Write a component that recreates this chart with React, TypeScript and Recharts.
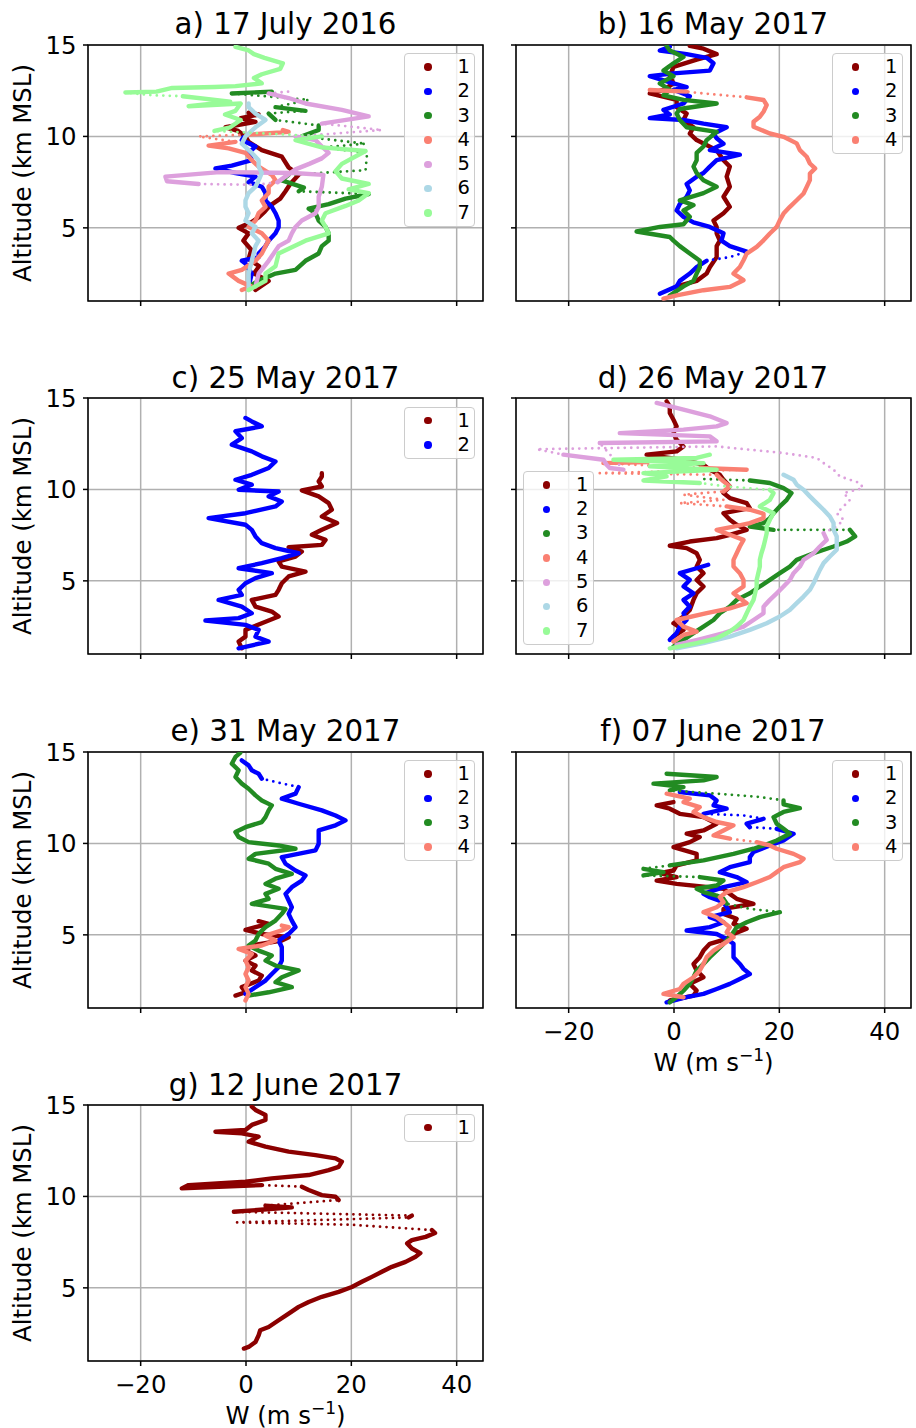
import React from 'react';
import {
  ScatterChart,
  Scatter,
  XAxis,
  YAxis,
  CartesianGrid,
  Legend,
  ReferenceArea,
} from 'recharts';

// every point is [W (m s-1), altitude (km MSL)].
// a third value 1 means the leg that ends at this point is sparse (drawn dotted).
type Pt = number[];

const W_TICKS = [-20, 0, 20, 40];
const ALT_TICKS = [5, 10, 15];
const W_DOMAIN = [-30, 45];
const ALT_DOMAIN = [1, 15];
const COLORS = ['#8b0000', '#0000ff', '#228b22', '#fa8072', '#dda0dd', '#add8e6', '#98fb98'];
const LEGEND_LABELS = ['1', '2', '3', '4', '5', '6', '7'];

// a) 17 July 2016
const a1: Pt[] = [[1.8,1.6],[4.3,2.1],[1.5,2.5],[2.5,2.9],[0.5,3.3],[1.0,3.8],[-0.5,4.3],[0.5,4.7],[-1.4,5.0],[1.0,5.3],[2.5,5.6],[3.6,5.9],[4.5,6.2],[6.5,6.6],[7.5,7.0],[8.4,7.4],[10.0,7.9],[8.1,8.3],[6.8,8.9],[3.0,9.25],[0.5,9.7],[-0.1,10.0],[-1.5,10.3],[-3.9,10.5],[1.8,10.8],[-1.0,11.0],[2.4,11.2],[0.5,11.3]];
const a2: Pt[] = [[0.5,1.8],[1.1,2.5],[-0.1,3.05],[-0.8,3.2],[2.4,3.4],[2.4,3.6],[3.7,4.0],[4.3,4.3],[5.6,4.7],[6.2,5.05],[6.2,5.4],[5.6,5.8],[4.9,6.15],[3.7,6.5],[3.7,6.9],[3.0,7.25],[0.5,7.5],[1.8,7.8],[-2.0,8.0],[-5.8,8.25],[-2.7,8.4],[1.1,8.7],[0.5,9.1],[1.8,9.45],[-0.8,9.8],[-0.5,9.95]];
const a3: Pt[] = [[0.5,1.8],[2.4,2.1],[5.6,2.5],[9.4,2.7],[11.3,3.2],[13.8,3.6],[14.4,4.0],[15.7,4.3],[15.7,4.7],[15.1,5.05],[13.8,5.4],[13.2,5.8],[11.9,6.05],[15.7,6.3],[18.9,6.6],[23.3,6.85],[10.0,7.0,1],[11.0,7.2],[6.8,7.6],[8.1,7.9],[22.7,8.15,1],[23.0,9.1,1],[14.4,9.4,1],[22.7,9.6,1],[10.6,10.0,1],[13.8,10.35],[13.8,10.6],[5.6,10.9,1],[4.3,11.25],[11.3,11.4,1],[5.6,11.6],[11.9,12.0,1],[-2.7,12.35,1],[4.9,12.45]];
const a4: Pt[] = [[-0.8,1.6],[1.0,1.8],[-1.4,2.1],[-3.3,2.5],[-0.8,2.7],[1.8,3.2],[3.0,3.6],[3.7,4.0],[4.3,4.3],[3.0,4.7],[0.5,5.05],[1.8,5.4],[2.4,5.8],[3.7,6.15],[3.0,6.5],[4.3,6.9],[4.3,7.25],[5.6,7.6],[4.9,7.9],[2.4,8.35],[1.1,8.7],[-0.1,9.1],[-3.3,9.35],[-7.1,9.5],[-2.0,9.7],[-9.0,10.0,1],[0.5,10.1,1],[8.1,10.25],[7.0,10.35]];
const a5: Pt[] = [[1.8,1.8],[2.4,2.5],[4.3,3.2],[6.2,4.0],[8.1,4.3],[8.7,4.7],[9.4,5.05],[10.6,5.4],[13.2,5.8],[13.8,6.15],[13.8,6.7],[14.4,7.25],[14.7,7.9],[9.0,8.0],[-5.0,8.05],[-15.3,7.8],[-15.0,7.55],[-9.0,7.4],[2.0,7.35,1],[6.0,7.5,1],[9.4,8.2],[12.0,8.5],[14.4,8.8],[15.7,9.1],[14.4,9.45],[13.2,9.8],[9.4,10.0],[25.8,10.35,1],[14.4,10.7,1],[23.3,11.1],[18.2,11.45],[11.3,11.8],[8.1,12.1],[4.3,12.35],[8.1,12.45,1]];
const a6: Pt[] = [[0.5,1.6],[0.5,2.5],[1.1,3.2],[1.8,4.0],[2.4,4.3],[1.1,4.7],[1.8,5.05],[-0.1,5.4],[0.5,5.8],[-0.1,6.15],[-0.1,6.5],[0.5,6.9],[1.8,7.25],[2.4,7.6],[3.0,8.0],[2.4,8.35],[2.4,8.7],[1.1,9.1],[-0.8,9.6],[-0.1,10.0],[1.8,10.5],[3.7,10.9],[1.8,11.25],[0.5,11.6],[0.5,11.8]];
const a7: Pt[] = [[0.5,1.6],[1.8,1.8],[3.7,2.1],[3.7,2.5],[5.6,2.9],[6.2,3.6],[11.3,4.3],[15.7,4.7],[15.1,5.05],[14.4,5.4],[15.1,5.8],[18.9,6.2],[21.4,6.5],[23.3,6.9],[19.5,7.1],[23.3,7.4],[18.2,7.7],[17.0,8.1],[18.2,8.5],[22.7,9.2],[14.4,9.4],[9.4,9.8],[14.4,10.0],[-6.0,10.3,1],[-3.0,10.5],[-1.0,10.9],[-4.0,11.2],[-2.0,11.4],[-1.0,11.8],[-10.9,11.65],[-3.0,11.9],[-12.0,12.2],[-17.8,12.25,1],[-22.9,12.4,1],[-17.0,12.45],[-14.0,12.65],[-6.0,12.7],[-2.0,12.75],[3.0,12.9],[1.5,13.2],[3.0,13.4],[6.5,13.7],[7.0,14.0],[3.5,14.3],[1.5,14.5],[0.5,14.7],[-2.0,14.9]];

// b) 16 May 2017
const b1: Pt[] = [[0.5,1.8],[4.3,2.1],[6.2,2.5],[6.8,2.85],[8.1,3.4],[8.1,4.0],[8.7,4.3],[8.1,4.7],[8.1,5.05],[7.5,5.4],[9.4,5.8],[10.6,6.15],[9.4,6.7],[10.6,7.25],[10.0,7.8],[10.6,8.35],[9.4,8.7],[8.1,9.25],[4.3,9.8],[3.0,10.15],[3.7,10.5],[1.8,10.9],[2.4,11.25],[0.5,11.6],[0.5,12.0],[-4.6,12.35],[-2.0,12.55],[-0.1,12.9],[-0.8,13.3],[-0.1,13.8],[4.3,14.2],[8.1,14.5],[5.6,14.8],[3.0,14.95]];
const b2: Pt[] = [[-2.7,1.4],[0.5,1.8],[1.1,2.1],[3.0,2.5],[4.3,2.85],[6.2,3.2],[10.6,3.4,1],[13.8,3.7,1],[10.6,4.0],[9.0,4.3],[9.4,4.7],[6.8,5.05],[3.7,5.3],[1.8,5.6],[0.5,5.95],[1.1,6.3],[2.4,6.7],[3.0,7.05],[2.4,7.4],[4.3,7.8],[5.6,8.0],[6.8,8.35],[8.1,8.7],[12.5,9.0],[6.8,9.25],[9.4,9.6],[8.1,9.9],[7.5,10.15],[10.0,10.5],[5.6,10.7],[1.8,10.9],[-4.6,11.0],[-0.8,11.2],[-2.0,11.45],[1.8,11.8],[3.0,12.2],[-0.1,12.55],[2.4,12.7],[-0.1,12.9],[-4.6,13.3],[-0.1,13.45],[6.8,13.6],[7.5,14.0],[6.2,14.3],[2.4,14.5],[-2.7,14.7],[-0.8,14.9]];
const b3: Pt[] = [[-0.8,1.3],[1.8,1.8],[3.7,2.1],[4.3,2.5],[4.9,2.85],[4.9,3.2],[3.0,3.6],[1.1,4.0],[-0.1,4.3],[-0.8,4.5],[-7.1,4.8],[-2.7,5.05],[1.8,5.2],[3.0,5.6],[1.8,5.95],[3.7,6.25],[1.1,6.5],[5.6,6.9],[8.1,7.25],[5.6,7.6],[4.3,8.0],[3.7,8.35],[4.3,8.7],[4.3,9.1],[5.6,9.45],[6.2,9.8],[8.1,10.25],[2.4,10.5],[1.1,10.9],[0.5,11.25],[1.1,11.5],[8.1,11.8],[1.8,12.0],[-2.0,12.25],[-0.8,12.55],[-2.7,12.9],[-0.1,13.3],[-2.0,13.6],[-0.1,14.0],[1.8,14.35],[-0.8,14.7],[-1.4,14.95]];
const b4: Pt[] = [[-2.0,1.13],[0.5,1.31],[5.6,1.59],[10.6,1.77],[13.2,2.14],[11.3,2.5],[12.5,2.86],[13.2,3.23],[13.8,3.59],[15.7,3.96],[17.0,4.32],[18.2,4.69],[19.5,5.05],[20.1,5.42],[20.8,5.78],[22.0,6.15],[23.3,6.51],[24.6,6.88],[25.2,7.24],[25.8,7.61],[25.8,7.97],[26.8,8.25],[25.8,8.52],[25.2,8.89],[23.9,9.25],[23.3,9.62],[20.8,9.98],[18.2,10.16],[15.1,10.53],[15.1,10.8],[16.3,11.08],[17.0,11.35],[17.6,11.72],[17.0,11.99],[13.8,12.14],[5.6,12.35,1],[2.4,12.45,1],[-4.6,12.54]];

// c) 25 May 2017
const c1: Pt[] = [[-0.8,1.31],[-1.4,1.68],[-0.1,1.95],[-0.1,2.32],[3.0,2.68],[6.2,3.05],[4.9,3.32],[1.8,3.59],[1.1,3.96],[5.6,4.23],[6.2,4.51],[6.8,4.87],[8.1,5.24],[11.3,5.51],[6.8,5.78],[6.2,6.06],[9.4,6.33],[10.6,6.6],[8.1,6.84],[14.4,6.97],[15.1,7.24],[12.5,7.52],[14.4,7.79],[17.3,8.16],[14.4,8.52],[16.3,8.89],[15.7,9.25],[13.8,9.62],[10.6,9.95],[14.4,10.16],[13.8,10.44],[14.4,10.71],[14.4,10.89]];
const c2: Pt[] = [[-1.4,1.31],[4.3,1.68],[1.8,1.95],[2.4,2.32],[-0.1,2.59],[-7.7,2.83],[-1.4,2.96],[1.1,3.23],[-0.8,3.59],[-5.2,3.96],[-0.8,4.23],[-1.4,4.51],[-0.1,4.87],[1.8,5.15],[4.9,5.42],[-1.4,5.69],[3.0,5.97],[6.8,6.24],[10.0,6.51],[5.6,6.79],[3.0,7.06],[1.8,7.43],[1.1,7.79],[-0.1,8.07],[-7.1,8.43],[-0.1,8.7],[5.6,9.07],[6.8,9.34],[4.3,9.62],[6.2,9.89],[-1.4,9.98],[1.1,10.26],[-2.0,10.53],[1.1,10.8],[4.3,11.17],[5.6,11.53],[3.0,11.81],[1.1,12.08],[-2.7,12.45],[-0.8,12.81],[-2.0,13.18],[3.0,13.45],[1.1,13.72],[-0.1,13.91]];

// d) 26 May 2017
const d1: Pt[] = [[-0.1,1.95],[1.8,2.32],[-0.1,2.68],[1.8,3.05],[3.0,3.41],[3.7,3.96],[4.3,4.32],[5.6,4.69],[4.3,5.05],[5.6,5.42],[4.3,5.78],[4.9,6.15],[4.3,6.51],[2.4,6.79],[-0.8,6.92],[3.0,7.15],[8.1,7.34],[10.6,7.52],[13.8,7.79],[11.9,8.07],[10.6,8.34],[9.4,8.7],[14.4,8.98],[13.8,9.25],[10.6,9.53],[9.4,9.8],[10.6,10.16],[9.4,10.53],[8.7,10.8],[6.8,11.08],[5.6,11.35],[1.8,11.62],[-5.2,11.9],[0.5,12.08],[1.8,12.35],[0.5,12.72],[-0.1,13.08],[0.5,13.45],[-0.1,13.81],[-0.8,14.18],[-0.8,14.54],[-1.4,14.82]];
const d2: Pt[] = [[-0.8,1.77],[0.5,2.14],[1.1,2.5],[2.4,2.86],[1.8,3.23],[3.0,3.59],[1.8,3.96],[3.7,4.32],[1.8,4.69],[3.0,5.05],[1.1,5.42],[4.3,5.69],[6.5,5.88]];
const d3: Pt[] = [[-0.1,1.41],[1.8,1.77],[3.7,2.14],[5.6,2.5],[7.5,2.86],[8.7,3.23],[10.6,3.59],[11.9,3.96],[14.4,4.32],[16.3,4.69],[18.2,5.05],[20.1,5.42],[22.0,5.78],[23.3,6.15],[26.5,6.51],[30.3,6.88],[32.8,7.15],[34.4,7.43],[33.4,7.79],[18.9,7.79,1],[14.4,7.97],[17.0,8.16],[18.2,8.43],[18.9,8.7],[20.1,9.07],[21.4,9.43],[22.3,9.8],[20.8,10.07],[18.2,10.35],[14.4,10.49],[5.6,10.57,1]];
const d4: Pt[] = [[-0.1,1.68],[1.8,2.04],[4.3,2.23],[1.8,2.5],[0.5,2.86],[6.2,3.23],[10.6,3.5],[13.8,3.78],[12.5,4.05],[11.3,4.32],[13.2,4.69],[13.2,5.05],[12.5,5.42],[11.3,5.78],[11.3,6.15],[11.9,6.51],[12.5,6.88],[13.2,7.24],[10.6,7.52],[8.1,7.79],[11.3,7.97],[14.4,8.16],[17.0,8.43],[17.0,8.67],[14.4,8.89],[10.0,9.07],[1.1,9.25,1],[9.4,9.43,1],[1.8,9.71,1],[9.4,9.89,1],[10.6,10.16],[9.4,10.44],[8.7,10.62],[8.1,10.8],[-14.1,10.89,1],[13.8,11.08,1],[5.0,11.17],[-13.4,11.44,1],[-5.0,11.5]];
const d5: Pt[] = [[0.5,1.5],[5.6,1.86],[9.4,2.14],[13.2,2.5],[15.1,2.86],[17.0,3.23],[17.0,3.59],[18.2,3.96],[19.5,4.32],[20.8,4.69],[22.0,5.05],[22.7,5.42],[23.9,5.78],[24.6,6.15],[26.5,6.51],[27.7,6.88],[29.0,7.24],[28.4,7.61],[30.9,7.97,1],[32.2,8.34,1],[30.9,8.7,1],[32.2,9.07,1],[33.4,9.43,1],[32.2,9.8,1],[35.9,10.07,1],[35.3,10.35,1],[31.5,10.71,1],[30.3,11.08,1],[28.4,11.44,1],[27.1,11.72,1],[20.8,11.99,1],[8.1,12.35,1],[-26.1,12.2,1],[-21.0,11.9,1],[-13.4,11.62],[-12.8,11.35],[-12.2,11.17],[-9.6,11.08],[-14.1,12.54,1],[8.1,12.63],[6.8,12.9],[-10.3,13.08],[1.8,13.27],[8.1,13.45],[10.0,13.63],[6.8,14.0],[1.8,14.36],[-3.3,14.73]];
const d6: Pt[] = [[0.5,1.31],[5.6,1.59],[10.6,1.95],[14.4,2.32],[17.6,2.68],[20.1,3.05],[22.0,3.41],[23.3,3.78],[24.6,4.14],[25.8,4.51],[26.5,4.87],[27.1,5.24],[27.7,5.6],[28.4,5.97],[29.6,6.33],[30.9,6.7],[30.9,7.06],[30.9,7.43],[30.3,7.79],[30.3,8.16],[29.6,8.52],[28.4,8.89],[27.1,9.25],[25.8,9.62],[24.6,9.98],[23.3,10.26],[22.7,10.53],[20.8,10.8]];
const d7: Pt[] = [[-0.8,1.31],[4.3,1.59],[8.1,1.86],[10.6,2.23],[11.9,2.5],[13.2,2.86],[13.8,3.23],[14.4,3.59],[15.1,3.96],[15.4,4.32],[15.7,4.69],[15.7,5.05],[16.0,5.42],[16.3,5.78],[16.3,6.15],[16.6,6.51],[17.0,6.88],[17.3,7.24],[17.6,7.61],[17.6,7.97],[18.2,8.34],[18.9,8.7],[16.3,9.07],[18.2,9.43],[18.9,9.8],[18.2,9.98],[10.0,10.16,1],[4.9,10.35,1],[-5.8,10.49],[-1.4,10.71],[-5.8,10.89],[8.1,11.08],[-4.6,11.26],[5.6,11.44],[-11.5,11.62],[4.3,11.72],[6.8,11.9]];

// e) 31 May 2017
const e1: Pt[] = [[-2.0,1.68],[-0.1,1.86],[-0.8,2.14],[2.4,2.5],[3.0,2.77],[1.1,3.05],[1.8,3.32],[-0.1,3.59],[1.8,3.87],[-0.1,4.14],[1.1,4.42],[6.8,4.69],[8.1,4.87],[3.0,5.05],[-0.1,5.27],[1.8,5.42],[4.3,5.6],[2.4,5.75]];
const e2: Pt[] = [[-0.1,1.77],[1.8,2.14],[3.7,2.5],[4.9,2.86],[6.2,3.23],[6.8,3.59],[6.8,3.96],[6.8,4.32],[6.2,4.69],[8.1,5.05],[9.4,5.42],[8.7,5.78],[8.1,6.15],[8.7,6.51],[8.1,6.88],[7.5,7.24],[8.7,7.61],[10.6,7.97],[11.3,8.25],[9.4,8.52],[7.5,8.89],[6.8,9.25],[13.2,9.62],[13.8,9.98],[13.8,10.35],[13.8,10.71],[17.0,10.99],[18.9,11.26],[17.0,11.53],[14.4,11.81],[10.0,12.17],[6.8,12.45],[9.4,12.72],[10.0,13.08],[5.6,13.36,1],[3.0,13.54,1],[2.4,13.81],[1.1,14.0],[0.5,14.27],[-0.8,14.54]];
const e3: Pt[] = [[0.5,1.68],[4.3,1.86],[8.7,2.14],[5.6,2.41],[6.8,2.68],[10.0,3.05],[5.6,3.32],[3.7,3.59],[4.9,3.87],[2.4,4.14],[0.5,4.42],[1.8,4.69],[2.4,5.05],[3.7,5.42],[5.6,5.78],[6.8,6.15],[7.5,6.42],[1.1,6.7],[4.3,6.97],[3.7,7.24],[6.2,7.52],[3.7,7.79],[5.6,8.07],[8.7,8.34],[5.6,8.61],[4.3,8.89],[0.5,9.16],[1.8,9.43],[9.4,9.71],[6.2,9.89],[0.5,10.07],[-1.4,10.35],[-2.0,10.62],[-0.1,10.89],[3.0,11.17],[3.7,11.44],[4.3,11.81],[4.9,12.08],[3.0,12.35],[1.8,12.63],[0.5,12.99],[-0.8,13.27],[-2.0,13.63],[-1.4,14.0],[-2.7,14.36],[-2.0,14.73],[-1.1,14.95]];
const e4: Pt[] = [[-0.1,1.41],[0.5,1.77],[-0.1,2.14],[0.5,2.5],[-0.1,2.86],[0.5,3.23],[-0.1,3.59],[1.1,3.96],[-1.4,4.23],[3.0,4.42],[5.6,4.69],[3.7,4.96],[6.8,5.24],[8.1,5.42],[6.8,5.51]];

// f) 07 June 2017
const f1: Pt[] = [[-0.8,1.41],[3.7,1.68],[4.3,1.95],[3.0,2.32],[5.6,2.68],[4.3,3.05],[3.7,3.41],[4.9,3.78],[5.6,4.14],[6.8,4.51],[10.0,4.78],[11.3,5.05],[13.8,5.33],[11.3,5.6],[11.9,5.88],[9.4,6.15],[9.4,6.42],[15.1,6.7],[11.9,6.97],[10.6,7.24],[9.4,7.52],[0.5,7.79],[-3.3,7.97],[0.5,8.16],[-2.7,8.38],[-0.1,8.52],[0.5,8.8],[4.3,9.07],[4.3,9.43],[-0.1,9.8],[3.0,10.07],[4.9,10.35],[2.4,10.53],[5.6,10.71],[8.1,11.08],[5.6,11.44],[1.1,11.62],[-0.8,11.9],[-3.3,12.08],[-0.1,12.26]];
const f2: Pt[] = [[-1.4,1.31],[2.4,1.59],[5.6,1.77],[8.1,2.04],[10.6,2.32],[12.5,2.59],[14.4,2.86],[13.2,3.14],[12.5,3.41],[11.3,3.78],[11.3,4.14],[11.3,4.51],[10.0,4.78],[8.1,5.05],[2.4,5.24],[6.8,5.42],[9.4,5.69],[6.8,5.97],[10.6,6.24],[10.0,6.51],[9.4,6.79],[6.8,7.06],[5.6,7.24],[9.4,7.61],[13.8,7.88],[11.9,8.16],[8.7,8.43],[10.6,8.7],[14.4,8.98],[14.4,9.25],[15.1,9.53],[18.2,9.89],[20.8,10.16],[22.7,10.53],[19.5,10.8],[14.4,10.89,1],[13.8,11.08],[17.0,11.35],[13.2,11.53,1],[5.6,11.62,1],[10.0,11.9],[7.5,12.08],[8.1,12.35],[6.8,12.63],[1.1,12.81]];
const f3: Pt[] = [[-0.8,1.31],[0.5,1.59],[1.8,1.95],[3.0,2.32],[3.7,2.68],[4.3,3.05],[5.6,3.41],[6.8,3.78],[8.1,4.14],[9.4,4.51],[10.6,4.87],[11.3,5.15],[11.9,5.42],[13.8,5.69],[16.3,5.97],[20.1,6.24],[14.4,6.42,1],[10.0,6.7,1],[9.4,6.97],[8.1,7.15],[5.6,7.34],[4.3,7.52],[8.1,7.7],[9.4,7.97],[4.9,8.16],[-5.8,8.25,1],[-2.0,8.43],[-5.8,8.61],[-0.8,8.8,1],[5.6,9.07],[11.3,9.43],[15.1,9.71],[17.0,9.89],[19.5,10.16],[22.0,10.53],[20.8,10.8],[19.5,11.08],[18.9,11.44],[20.8,11.72],[23.9,11.93],[20.8,12.14],[20.8,12.35],[16.3,12.54,1],[8.1,12.72,1],[-0.8,12.9,1],[1.8,13.08],[-3.9,13.27],[5.6,13.45],[8.1,13.63],[-1.4,13.81]];
const f4: Pt[] = [[1.8,1.59],[-2.0,1.77],[1.1,2.04],[1.8,2.32],[3.7,2.68],[4.9,3.05],[5.6,3.41],[6.2,3.78],[7.5,4.14],[9.4,4.51],[11.3,4.87],[10.0,5.15],[10.6,5.42],[9.4,5.69],[8.1,5.97],[5.6,6.24],[8.1,6.51],[9.4,6.79],[8.7,7.06],[10.0,7.34],[13.2,7.61],[15.7,7.88],[18.2,8.16],[19.5,8.43],[20.8,8.7],[23.9,8.98],[24.6,9.16],[22.7,9.43],[19.5,9.71],[18.2,9.89],[15.7,10.07],[10.6,10.26,1],[7.5,10.44],[9.4,10.71],[11.3,10.99],[8.1,11.17],[5.6,11.44],[3.7,11.72],[4.9,11.99],[1.8,12.26],[3.0,12.45],[-1.4,12.72]];

// g) 12 June 2017
const g1: Pt[] = [[-0.4,1.68],[0.5,1.77],[1.8,2.04],[2.4,2.41],[2.7,2.68],[4.3,2.86],[6.2,3.23],[8.1,3.59],[10.0,3.96],[11.9,4.23],[14.4,4.51],[17.6,4.78],[20.1,5.05],[22.0,5.33],[23.9,5.6],[25.8,5.88],[27.7,6.15],[30.3,6.42],[32.2,6.7],[33.1,6.9],[31.5,7.15],[30.6,7.43],[31.5,7.61],[34.1,7.79],[35.9,8.0],[35.3,8.16],[20.0,8.45,1],[-1.7,8.58,1],[30.9,8.85,1],[31.5,8.95],[-2.3,9.16,1],[4.0,9.3],[8.7,9.4],[3.7,9.5],[17.6,9.8,1],[17.0,9.98],[14.4,10.07],[11.9,10.35],[10.6,10.53],[3.0,10.62,1],[-12.2,10.44],[-10.9,10.62],[-0.1,10.8],[4.9,10.99],[11.9,11.17],[15.7,11.44],[17.6,11.62],[18.2,11.9],[17.0,12.08],[13.2,12.26],[8.1,12.45],[3.7,12.72],[0.5,12.99],[2.4,13.27],[-0.8,13.45],[-5.8,13.54],[-0.1,13.63],[1.1,13.91],[3.7,14.18],[3.7,14.45],[1.8,14.73],[1.1,14.91]];

const PANELS = [
  { title: 'a) 17 July 2016', series: [a1, a2, a3, a4, a5, a6, a7], col: 0, row: 0, legend: 'upper right' },
  { title: 'b) 16 May 2017', series: [b1, b2, b3, b4], col: 1, row: 0, legend: 'upper right' },
  { title: 'c) 25 May 2017', series: [c1, c2], col: 0, row: 1, legend: 'upper right' },
  { title: 'd) 26 May 2017', series: [d1, d2, d3, d4, d5, d6, d7], col: 1, row: 1, legend: 'lower left' },
  { title: 'e) 31 May 2017', series: [e1, e2, e3, e4], col: 0, row: 2, legend: 'upper right' },
  { title: 'f) 07 June 2017', series: [f1, f2, f3, f4], col: 1, row: 2, legend: 'upper right', xLabels: true },
  { title: 'g) 12 June 2017', series: [g1], col: 0, row: 3, legend: 'upper right', xLabels: true },
];

// layout, px
const COL_LEFT = [88, 515.5];
const ROW_TOP = [44.5, 398, 751.5, 1105];
const PW = 395;
const PH = 256;
const ML = 88;
const MT = 20;
const MR = 6;
const XH = 70;
const FONT = 'DejaVu Sans';
const TICK_FS = 24.4;
const ROW_H = 24.3;

const fmtTick = (v: number) => (v < 0 ? `\u2212${Math.abs(v)}` : `${v}`);

// keeps the tick (and its grid line) but draws no label
const NoLabel = () => <g />;
const NoShape = () => <g />;

const YLabel = () => (
  <text
    x={30.5}
    y={MT + PH / 2}
    transform={`rotate(-90, 30.5, ${MT + PH / 2})`}
    textAnchor="middle"
    fontSize={TICK_FS}
    fill="#000"
  >
    Altitude (km MSL)
  </text>
);

const XLabel = () => (
  <text x={ML + PW / 2} y={MT + PH + 62.5} textAnchor="middle" fontSize={TICK_FS} fill="#000">
    W (m s
    <tspan dy={-10} fontSize={17}>{'\u22121'}</tspan>
    <tspan dy={10}>)</tspan>
  </text>
);

const legendContent = (n: number) => () => (
  <div
    style={{
      width: 71,
      boxSizing: 'border-box',
      border: '1px solid #cccccc',
      borderRadius: 4,
      background: 'rgba(255,255,255,0.8)',
      padding: '1px 0',
      fontFamily: FONT,
    }}
  >
    {LEGEND_LABELS.slice(0, n).map((lab, i) => (
      <div key={lab} style={{ height: ROW_H, position: 'relative' }}>
        <span
          style={{
            position: 'absolute',
            left: 19.3,
            top: ROW_H / 2 - 3.7,
            width: 7.4,
            height: 7.4,
            borderRadius: '50%',
            background: COLORS[i],
          }}
        />
        <span style={{ position: 'absolute', left: 52.5, top: 0, fontSize: 19.5, lineHeight: `${ROW_H}px`, color: '#000' }}>
          {lab}
        </span>
      </div>
    ))}
  </div>
);

// cut a profile into runs of dense (solid) and sparse (dotted) legs
const splitRuns = (s: Pt[]) => {
  const runs: { sparse: boolean; pts: Pt[] }[] = [];
  for (let i = 1; i < s.length; i++) {
    const sparse = s[i][2] === 1;
    const last = runs[runs.length - 1];
    if (last && last.sparse === sparse) last.pts.push(s[i]);
    else runs.push({ sparse, pts: [s[i - 1], s[i]] });
  }
  return runs;
};

interface PanelProps {
  title: string;
  series: Pt[][];
  col: number;
  row: number;
  legend: string;
  xLabels?: boolean;
}

const Panel: React.FC<PanelProps> = ({ title, series, col, row, legend, xLabels }) => {
  const left = COL_LEFT[col];
  const top = ROW_TOP[row];
  const n = series.length;
  const boxH = n * ROW_H + 4;
  const legendPos =
    legend === 'lower left'
      ? { left: ML + 7, top: MT + PH - 9 - boxH }
      : { left: ML + PW - 8 - 71, top: MT + 8.5 };

  return (
    <>
      <div
        style={{
          position: 'absolute',
          left,
          top: top - 34.3,
          width: PW,
          textAlign: 'center',
          fontSize: 29.3,
          lineHeight: '29.3px',
          color: '#000',
          whiteSpace: 'nowrap',
        }}
      >
        {title}
      </div>
      <div style={{ position: 'absolute', left: left - ML, top: top - MT }}>
        <ScatterChart width={ML + PW + MR} height={MT + PH + XH} margin={{ top: MT, right: MR, bottom: 0, left: 0 }}>
          <CartesianGrid stroke="#b0b0b0" strokeWidth={1.5} />
          <XAxis
            type="number"
            dataKey="w"
            domain={W_DOMAIN}
            ticks={W_TICKS}
            allowDataOverflow
            interval={0}
            height={XH}
            axisLine={false}
            tickSize={5}
            tickMargin={10}
            tickLine={{ stroke: '#000', strokeWidth: 1.5 }}
            tick={xLabels ? { fill: '#000', fontSize: TICK_FS } : NoLabel}
            tickFormatter={fmtTick}
            label={xLabels ? XLabel : undefined}
          />
          <YAxis
            type="number"
            dataKey="alt"
            domain={ALT_DOMAIN}
            ticks={ALT_TICKS}
            allowDataOverflow
            interval={0}
            width={ML}
            axisLine={false}
            tickSize={5}
            tickMargin={6.5}
            tickLine={{ stroke: '#000', strokeWidth: 1.5 }}
            tick={col === 0 ? { fill: '#000', fontSize: TICK_FS } : NoLabel}
            label={col === 0 ? YLabel : undefined}
          />
          {series.map((s, i) =>
            splitRuns(s).map((run, j) => (
              <Scatter
                key={`${LEGEND_LABELS[i]}-${j}`}
                name={LEGEND_LABELS[i]}
                data={run.pts.map((p) => ({ w: p[0], alt: p[1] }))}
                fill={COLORS[i]}
                line={
                  run.sparse
                    ? { stroke: COLORS[i], strokeWidth: 2.8, strokeDasharray: '0 6.5', strokeLinecap: 'round' }
                    : { stroke: COLORS[i], strokeWidth: 4.4, strokeLinejoin: 'round', strokeLinecap: 'round' }
                }
                lineType="joint"
                shape={NoShape}
                legendType="none"
                isAnimationActive={false}
              />
            ))
          )}
          <ReferenceArea
            x1={W_DOMAIN[0]}
            x2={W_DOMAIN[1]}
            y1={ALT_DOMAIN[0]}
            y2={ALT_DOMAIN[1]}
            fill="none"
            fillOpacity={0}
            stroke="#000"
            strokeWidth={1.5}
            ifOverflow="visible"
          />
          <Legend
            layout="vertical"
            align="center"
            verticalAlign="middle"
            content={legendContent(n)}
            wrapperStyle={{ left: legendPos.left, top: legendPos.top, width: 71 }}
          />
        </ScatterChart>
      </div>
    </>
  );
};

const App: React.FC = () => (
  <div
    style={{
      position: 'absolute',
      left: 0,
      top: 0,
      width: 916,
      height: 1428,
      overflow: 'hidden',
      background: '#fff',
      fontFamily: FONT,
    }}
  >
    {PANELS.map((p) => (
      <Panel key={p.title} {...p} />
    ))}
  </div>
);

export default App;
